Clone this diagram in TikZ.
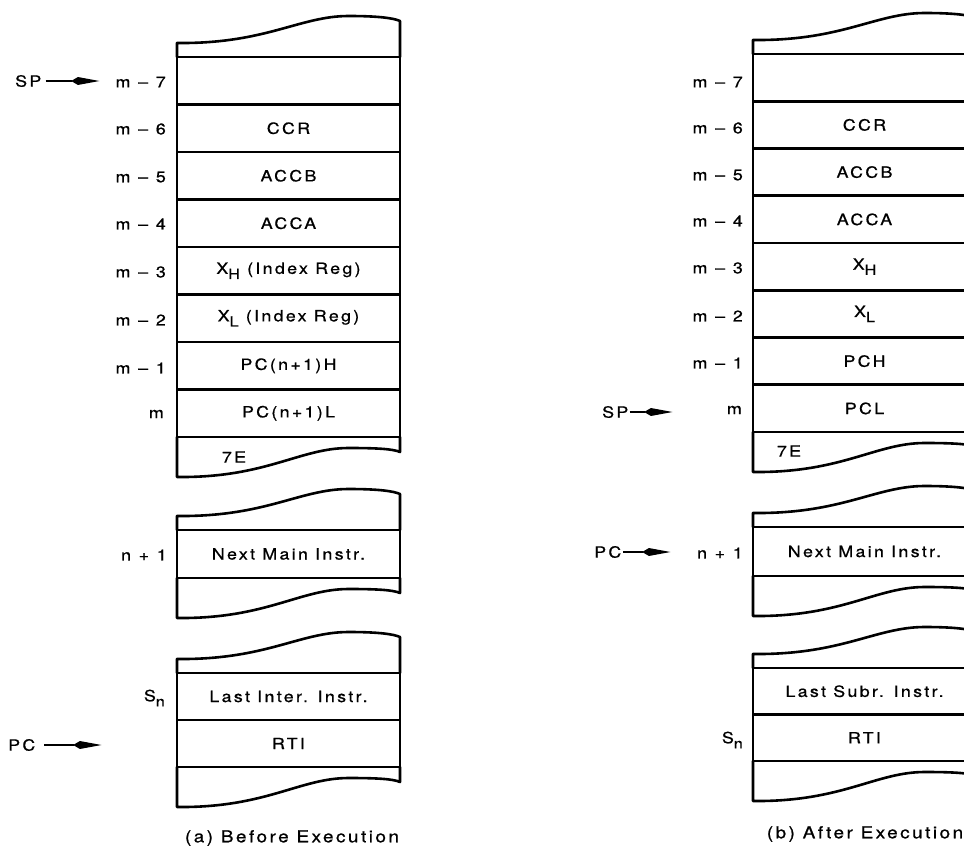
\documentclass[tikz,border=0pt]{standalone}
\usepackage{fontspec}
\setmainfont{TeX Gyre Heros}[FakeStretch=1.15,LetterSpace=15,FakeBold=0.8]
\usetikzlibrary{arrows.meta}
\newcommand\lowsub[1]{\raisebox{-0.33em}{\fontsize{14}{15}\selectfont #1}}
\newcommand\wsp{\hspace{0.5em}}
\newcommand\topcap[3]{%
  \draw[boxline] (#1,#2) -- (#1,#2-14)
    .. controls (#1+0.4*#3,#2-13) and (#1+0.55*#3,#2-41) .. (#1+0.77*#3,#2-41)
    .. controls (#1+0.9*#3,#2-41) and (#1+0.97*#3,#2-39) .. (#1+#3,#2-36)
    -- (#1+#3,#2);}
\newcommand\botcap[3]{%
  \draw[boxline] (#1,#2) -- (#1,#2+40)
    .. controls (#1+0.4*#3,#2+41) and (#1+0.55*#3,#2+11) .. (#1+0.77*#3,#2+11)
    .. controls (#1+0.9*#3,#2+11) and (#1+0.97*#3,#2+12) .. (#1+#3,#2+15)
    -- (#1+#3,#2);}
\begin{document}
\begin{tikzpicture}[x=1pt,y=-1pt,
  every node/.style={font=\fontsize{15.5}{18}\selectfont},
  boxline/.style={line width=2.6pt, line join=round, line cap=round},
  cell/.style={draw, line width=2.6pt, rectangle, inner sep=0pt,
    minimum width=223pt, minimum height=#1},
  cell/.default=47.5pt,
  lab/.style={anchor=east, inner sep=0pt},
  ptrtext/.style={anchor=west, inner sep=0pt},
  ptr/.style={line width=1.3pt, -{Stealth[length=22pt,width=7pt,inset=-7pt]}},
  capt/.style={inner sep=0pt, font=\fontsize{16.5}{19}\selectfont}]
\useasboundingbox (0,0) rectangle (964,848);
\clip (0,0) rectangle (964,848);

% ---------------- (a) Before Execution ----------------
\topcap{177}{57}{223}
\node[cell] (La7) at (288.5,80.75) {};
\node[cell] (La6) at (288.5,128.25) {CCR};
\node[cell] (La5) at (288.5,175.75) {ACCB};
\node[cell] (La4) at (288.5,223.25) {ACCA};
\node[cell] (La3) at (288.5,270.75) {X\lowsub{H} (Index Reg)};
\node[cell] (La2) at (288.5,318.25) {X\lowsub{L} (Index Reg)};
\node[cell] (La1) at (288.5,365.75) {PC(n+1)H};
\node[cell] (La0) at (288.5,413.25) {PC(n+1)L};
\botcap{177}{437}{223}
\node[inner sep=0pt] (a7E) at (234,457) {7E};

\node[lab] (ma7) at (166,82) {m\wsp\textendash\wsp 7};
\node[lab] (ma6) at (166,129) {m\wsp\textendash\wsp 6};
\node[lab] (ma5) at (166,177) {m\wsp\textendash\wsp 5};
\node[lab] (ma4) at (166,224) {m\wsp\textendash\wsp 4};
\node[lab] (ma3) at (166,272) {m\wsp\textendash\wsp 3};
\node[lab] (ma2) at (166,320) {m\wsp\textendash\wsp 2};
\node[lab] (ma1) at (166,368) {m\wsp\textendash\wsp 1};
\node[lab] (ma0) at (164,414) {m};

\node[ptrtext] (spA) at (15,81) {SP};
\coordinate (spAend) at (100,81);
\draw[ptr] (spA.east) ++(4,0) coordinate (spAstart) (spAstart) -- (spAend);

\topcap{177}{530}{223}
\node[cell=48pt] (LaNext) at (288.5,554) {Next Main Instr.};
\botcap{177}{578}{223}
\node[lab] (na1) at (167,555) {n\wsp+\wsp 1};

\topcap{177}{673}{223}
\node[cell=47pt] (LaLast) at (288.5,696.5) {Last Inter. Instr.};
\node[cell=47pt] (LaRti) at (288.5,743.5) {RTI};
\botcap{177}{767}{223}
\node[lab] (sna) at (165,698) {S\lowsub{n}};

\node[ptrtext] (pcA) at (8,745) {PC};
\coordinate (pcAend) at (102,745);
\draw[ptr] (pcA.east) ++(9,0) coordinate (pcAstart) (pcAstart) -- (pcAend);

\node[capt] (capA) at (292,838) {(a) Before Execution};

% ---------------- (b) After Execution ----------------
\topcap{753}{54}{223}
\node[cell=47.25pt] (Lb7) at (864.5,77.6) {};
\node[cell=47.25pt] (Lb6) at (864.5,124.9) {CCR};
\node[cell=47.25pt] (Lb5) at (864.5,172.1) {ACCB};
\node[cell=47.25pt] (Lb4) at (864.5,219.4) {ACCA};
\node[cell=47.25pt] (Lb3) at (864.5,266.6) {X\lowsub{H}};
\node[cell=47.25pt] (Lb2) at (864.5,313.9) {X\lowsub{L}};
\node[cell=47.25pt] (Lb1) at (864.5,361.1) {PCH};
\node[cell=47.25pt] (Lb0) at (864.5,408.4) {PCL};
\botcap{753}{432}{223}
\node[inner sep=0pt] (b7E) at (789,451) {7E};

\node[lab] (mb7) at (743,82) {m\wsp\textendash\wsp 7};
\node[lab] (mb6) at (743,128) {m\wsp\textendash\wsp 6};
\node[lab] (mb5) at (743,175) {m\wsp\textendash\wsp 5};
\node[lab] (mb4) at (743,221) {m\wsp\textendash\wsp 4};
\node[lab] (mb3) at (743,268) {m\wsp\textendash\wsp 3};
\node[lab] (mb2) at (743,316) {m\wsp\textendash\wsp 2};
\node[lab] (mb1) at (743,363) {m\wsp\textendash\wsp 1};
\node[lab] (mb0) at (742,410) {m};

\node[ptrtext] (spB) at (602,412) {SP};
\coordinate (spBend) at (673,412);
\draw[ptr] (spB.east) ++(1,0) coordinate (spBstart) (spBstart) -- (spBend);

\topcap{753}{527}{223}
\node[cell=49pt] (LbNext) at (864.5,551.5) {Next Main Instr.};
\botcap{753}{576}{223}
\node[lab] (nb1) at (743,553) {n\wsp+\wsp 1};

\node[ptrtext] (pcB) at (594,552) {PC};
\coordinate (pcBend) at (671,552);
\draw[ptr] (pcB.east) ++(2,0) coordinate (pcBstart) (pcBstart) -- (pcBend);

\topcap{753}{668}{223}
\node[cell=46.5pt] (LbLast) at (864.5,691.25) {Last Subr. Instr.};
\node[cell=46.5pt] (LbRti) at (864.5,737.75) {RTI};
\botcap{753}{761}{223}
\node[lab] (snb) at (743,740) {S\lowsub{n}};

\node[capt] (capB) at (865,834) {(b) After Execution};
\end{tikzpicture}
\end{document}
